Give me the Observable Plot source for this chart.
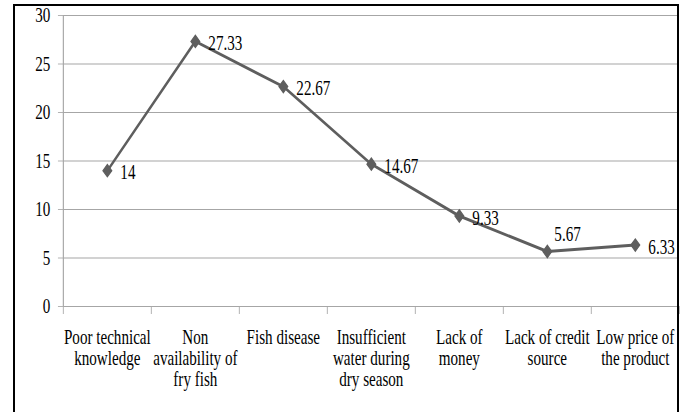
<!DOCTYPE html>
<html>
<head>
<meta charset="utf-8">
<script src="https://cdn.jsdelivr.net/npm/d3@7"></script>
<script src="https://cdn.jsdelivr.net/npm/@observablehq/plot@0.6"></script>
<style>
  html, body { margin: 0; padding: 0; background: white; }
  #wrap { position: relative; width: 689px; height: 412px; overflow: hidden; }
  #frame { position: absolute; left: 13px; top: 4px; width: 666px; height: 430px;
           border: 2.5px solid black; box-sizing: border-box; pointer-events: none; }
  svg text { font-family: "Liberation Serif", serif; }
</style>
</head>
<body>
<div id="wrap"><div id="frame"></div></div>
<script>
const categories = [
  "Poor technical\nknowledge",
  "Non\navailability of\nfry fish",
  "Fish disease",
  "Insufficient\nwater during\ndry season",
  "Lack of\nmoney",
  "Lack of credit\nsource",
  "Low price of\nthe product"
];
const values = [14, 27.33, 22.67, 14.67, 9.33, 5.67, 6.33];
const valueLabels = ["14", "27.33", "22.67", "14.67", "9.33", "5.67", "6.33"];
const yTicks = [0, 5, 10, 15, 20, 25, 30];

const data = categories.map((c, i) => ({i, c, v: values[i], label: valueLabels[i]}));
const boundaries = d3.range(categories.length + 1).map(i => i - 0.5);

const SX = 0.72;            // horizontal squeeze of the original picture
const W = Math.round(689 / SX), H = 412;
const grid = "#a6a6a6", ink = "#5e5e5e";

const svg = Plot.plot({
  width: W, height: H,
  marginLeft: 87.5, marginRight: W - 679 / SX, marginTop: 15, marginBottom: 106,
  x: {type: "linear", domain: [-0.5, categories.length - 0.5]},
  y: {domain: [0, 30]},
  style: {fontFamily: "Liberation Serif", fontSize: "21px", color: "black", background: "transparent"},
  marks: [
    Plot.gridY(yTicks, {stroke: grid, strokeOpacity: 1, strokeWidth: 1.2}),
    Plot.ruleX([-0.5], {stroke: grid, strokeWidth: 1.6}),
    Plot.axisY({ticks: yTicks, tickSize: 7, tickPadding: 11, stroke: grid, fill: "black", fontSize: 21, label: null}),
    Plot.axisX({ticks: boundaries, tickSize: 8, tickFormat: () => "", stroke: grid, label: null}),
    Plot.axisX({ticks: d3.range(categories.length), tickSize: 0, tickPadding: 23,
                tickFormat: i => categories[i], fill: "black", fontSize: 21, lineHeight: 1, label: null}),
    Plot.line(data, {x: "i", y: "v", stroke: ink, strokeWidth: 3}),
    Plot.dot(data, {x: "i", y: "v", symbol: "diamond2", r: 5.5, fill: ink, stroke: ink}),
    Plot.text(data.filter(d => d.i !== 5), {x: "i", y: "v", text: "label", textAnchor: "start",
                dx: 13 / SX, dy: 2, fill: "black", fontSize: 21}),
    Plot.text(data.filter(d => d.i === 5), {x: "i", y: "v", text: "label", textAnchor: "start",
                dx: 7 / SX, dy: -17, fill: "black", fontSize: 21})
  ]
});
svg.setAttribute("preserveAspectRatio", "none");
svg.style.width = "689px";
svg.style.height = "412px";
svg.style.maxWidth = "none";
svg.style.display = "block";
document.getElementById("wrap").insertBefore(svg, document.getElementById("frame"));
</script>
</body>
</html>
